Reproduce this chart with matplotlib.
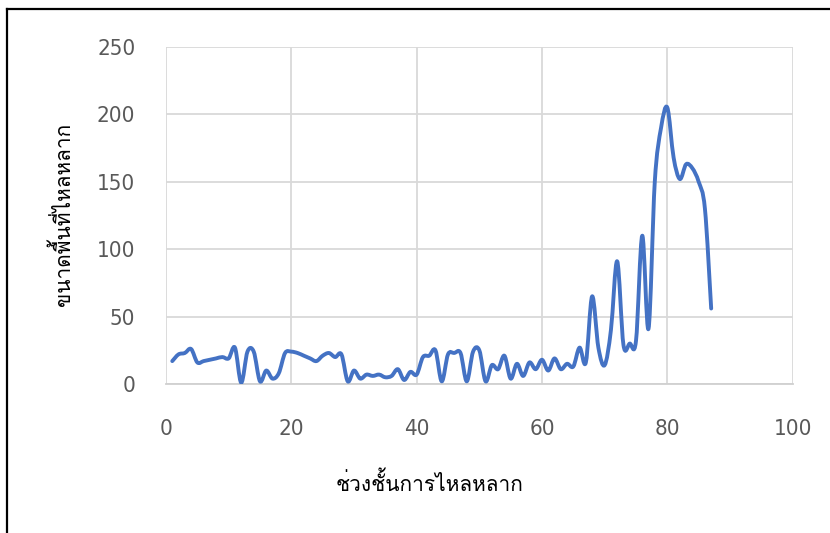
import numpy as np
import matplotlib
matplotlib.use('Agg')
import matplotlib.pyplot as plt
from matplotlib.path import Path
from matplotlib.patches import PathPatch
from matplotlib.lines import Line2D
from matplotlib import font_manager
from matplotlib.ft2font import FT2Font

# ---------------------------------------------------------------------------
# Datos
# ---------------------------------------------------------------------------
x_vals = list(range(1, 88))
areas = [17, 22, 23, 26, 16, 17, 18, 19, 20, 19,
         27, 1, 24, 24, 2, 10, 4, 8, 23, 24,
         23, 21, 19, 17, 21, 23, 20, 22, 2, 10,
         4, 7, 6, 7, 5, 6, 11, 3, 9, 7,
         20, 21, 25, 2, 22, 23, 23, 2, 24, 25,
         2, 14, 11, 21, 4, 15, 6, 16, 11, 18,
         10, 19, 11, 15, 13, 27, 16, 65, 27, 14,
         40, 91, 29, 30, 32, 110, 41, 150, 190, 205,
         168, 152, 163, 160, 150, 130, 56]
x_ticks = [0, 20, 40, 60, 80, 100]
y_ticks = [0, 50, 100, 150, 200, 250]
x_title = 'ช่วงชั้นการไหลหลาก'
y_title = 'ขนาดพื้นที่ไหลหลาก'

# ---------------------------------------------------------------------------
# Fuente con glifos tailandeses
# ---------------------------------------------------------------------------
thai_font = None
for f in font_manager.fontManager.ttflist:
    try:
        if 0x0E01 in FT2Font(f.fname).get_charmap():
            thai_font = f.name
            break
    except Exception:
        pass
families = ([thai_font] if thai_font else []) + ['DejaVu Sans']
grey = '#595959'

fig = plt.figure(figsize=(8.3, 5.33), dpi=100)
ax = fig.add_axes([0.2, 0.2795, 0.755, 0.6325])

# Curva suavizada (Bezier tipo Excel)
xs = np.array(x_vals, dtype=float)
ys = np.array(areas, dtype=float)
n = len(xs)
verts = [(xs[0], ys[0])]
codes = [Path.MOVETO]
for i in range(n - 1):
    x0, y0 = (xs[i - 1], ys[i - 1]) if i > 0 else (xs[i], ys[i])
    x3, y3 = (xs[i + 2], ys[i + 2]) if i + 2 < n else (xs[i + 1], ys[i + 1])
    c1 = (xs[i] + (xs[i + 1] - x0) / 6, ys[i] + (ys[i + 1] - y0) / 6)
    c2 = (xs[i + 1] - (x3 - xs[i]) / 6, ys[i + 1] - (y3 - ys[i]) / 6)
    verts += [c1, c2, (xs[i + 1], ys[i + 1])]
    codes += [Path.CURVE4] * 3
ax.add_patch(PathPatch(Path(verts, codes), facecolor='none',
                       edgecolor='#4472C4', linewidth=2.8,
                       capstyle='round', joinstyle='round', zorder=3))

ax.set_xlim(0, 100)
ax.set_ylim(0, 250)
ax.set_xticks(x_ticks)
ax.set_yticks(y_ticks)
ax.grid(True, color='#d9d9d9', linewidth=1.3)
ax.set_axisbelow(True)
for s in ['top', 'right', 'left']:
    ax.spines[s].set_visible(False)
ax.spines['bottom'].set_color('#d0d0d0')
ax.spines['bottom'].set_linewidth(1.3)
ax.tick_params(length=0, colors=grey, labelsize=16)
ax.tick_params(axis='x', pad=25)
ax.tick_params(axis='y', pad=22)
for lab in ax.get_xticklabels() + ax.get_yticklabels():
    lab.set_family('DejaVu Sans')
    lab.set_stretch('condensed')
    lab.set_weight('light')

fig.text(0.518, 0.094, x_title, ha='center', va='center',
         fontsize=15, family=families, color='black')
fig.text(0.075, 0.597, y_title, ha='center', va='center', rotation=90,
         fontsize=15, family=families, color='black')

# Marco negro (izquierda y arriba)
fig.add_artist(Line2D([0.008, 0.008], [0.0, 0.983], color='black',
                      linewidth=1.6, transform=fig.transFigure))
fig.add_artist(Line2D([0.008, 1.0], [0.983, 0.983], color='black',
                      linewidth=1.6, transform=fig.transFigure))

plt.savefig('out.png', dpi=100)
